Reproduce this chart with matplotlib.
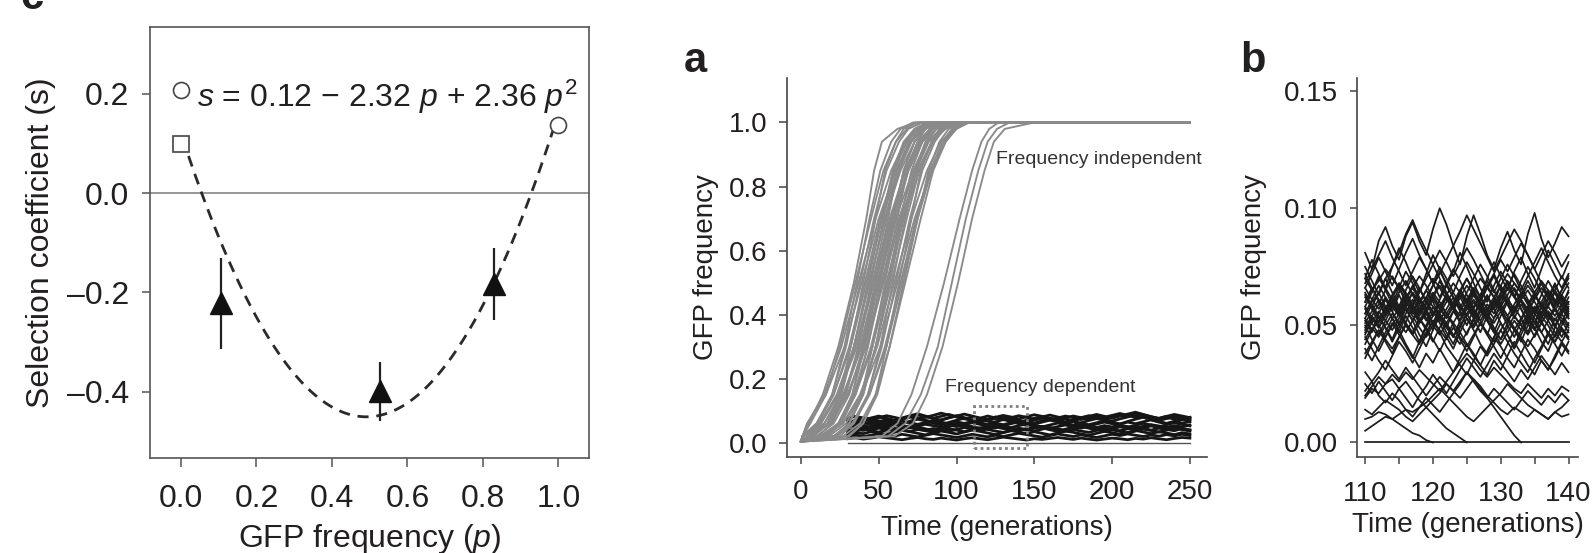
import numpy as np
import matplotlib
matplotlib.use("Agg")
import matplotlib.pyplot as plt
from matplotlib.patches import Rectangle

plt.rcParams["font.family"] = ["Liberation Sans", "DejaVu Sans"]
plt.rcParams["mathtext.fontset"] = "custom"
plt.rcParams["mathtext.rm"] = "Liberation Sans"
plt.rcParams["mathtext.it"] = "Liberation Sans:italic"
plt.rcParams["mathtext.bf"] = "Liberation Sans:bold"

# --- panel c: selection coefficient against GFP frequency ---
p_open_circle = [0.0, 1.0]
s_open_circle = [0.207, 0.136]
p_open_square = [0.0]
s_open_square = [0.099]
p_tri = [0.106, 0.528, 0.83]
s_tri = [-0.222, -0.399, -0.183]
s_tri_err = [0.092, 0.06, 0.072]
fit_coef = [0.12, -2.32, 2.36]      # s = a + b*p + c*p^2 (from the figure)
fit_p_range = [0.02, 0.985]
c_xticks = [0.0, 0.2, 0.4, 0.6, 0.8, 1.0]
c_yticks = [-0.4, -0.2, 0.0, 0.2]
c_yticklabels = ["\u20130.4", "\u20130.2", "0.0", "0.2"]

# --- panel a: frequency independent runs (grey) ---
# generation at which each run crossed these GFP frequencies
indep_levels = [0.02, 0.06, 0.15, 0.3, 0.5, 0.7, 0.85, 0.94, 0.98, 1.0]
indep_start = 0.003
indep_end_gen = 250
indep_runs = [
    [1, 6, 16, 25, 35, 45, 53, 61, 68, 77],
    [2, 11, 20, 28, 36, 44, 51, 58, 64, 72],
    [1, 4, 15, 26, 37, 48, 58, 67, 75, 85],
    [1, 10, 20, 29, 38, 47, 55, 63, 69, 78],
    [1, 4, 16, 28, 39, 50, 61, 70, 79, 89],
    [8, 17, 25, 32, 40, 48, 54, 61, 66, 74],
    [1, 11, 21, 31, 41, 51, 60, 68, 76, 85],
    [1, 10, 21, 32, 42, 52, 62, 71, 78, 88],
    [7, 17, 26, 34, 43, 52, 59, 66, 73, 81],
    [4, 15, 25, 34, 44, 54, 62, 70, 77, 86],
    [11, 20, 29, 37, 45, 53, 60, 67, 73, 81],
    [1, 13, 24, 35, 46, 57, 67, 76, 84, 94],
    [8, 18, 28, 37, 46, 55, 63, 71, 77, 86],
    [1, 12, 24, 36, 47, 58, 69, 78, 87, 97],
    [16, 25, 33, 40, 48, 56, 62, 69, 74, 82],
    [6, 18, 28, 38, 48, 58, 67, 75, 83, 92],
    [5, 17, 28, 39, 49, 59, 69, 78, 85, 95],
    [14, 24, 33, 41, 50, 59, 66, 73, 80, 88],
    [10, 21, 31, 40, 50, 60, 68, 76, 83, 92],
    [17, 26, 35, 43, 51, 59, 66, 73, 79, 87],
    [6, 19, 30, 41, 52, 63, 73, 82, 90, 100],
    [14, 24, 34, 43, 52, 61, 69, 77, 83, 92],
    [5, 18, 30, 42, 53, 64, 75, 84, 93, 103],
    [22, 31, 39, 46, 54, 62, 68, 75, 80, 88],
    [13, 25, 35, 45, 55, 65, 74, 82, 90, 99],
    [12, 24, 35, 46, 56, 66, 76, 85, 92, 102],
    [21, 31, 40, 48, 57, 66, 73, 80, 87, 95],
    [18, 29, 39, 48, 58, 68, 76, 84, 91, 100],
    [25, 34, 43, 51, 59, 67, 74, 81, 87, 95],
    [14, 27, 38, 49, 60, 71, 81, 90, 98, 106],
    [23, 33, 43, 52, 61, 70, 78, 86, 92, 101],
    [14, 27, 39, 51, 62, 73, 84, 93, 100, 108],
    [31, 40, 48, 55, 63, 71, 77, 84, 89, 97],
    [22, 34, 44, 54, 64, 74, 83, 91, 97, 105],
    [21, 33, 44, 55, 65, 75, 84, 92, 98, 106],
    [30, 40, 49, 57, 66, 75, 82, 89, 95, 103],
    [27, 38, 48, 57, 67, 77, 85, 93, 99, 108],
    [1, 12, 23, 34, 44, 54, 64, 73, 80, 90],
    [2, 15, 27, 39, 50, 61, 72, 81, 90, 100],
    [22, 31, 40, 48, 56, 64, 71, 78, 84, 92],
    [1, 5, 14, 24, 34, 42, 47, 52, 62, 74],
    [52, 62, 71, 81, 92, 102, 110, 116, 121, 127],
    [56, 67, 77, 88, 97, 106, 114, 120, 126, 134],
    [60, 72, 81, 91, 101, 110, 118, 124, 131, 150],
]

# --- panel a: frequency dependent runs (black), GFP frequency x 1000, every 5 gens ---
dep_gen_start, dep_gen_end, dep_gen_step = 30, 250, 5
dep_runs = [
    [48, 55, 62, 57, 66, 71, 64, 58, 67, 73, 68, 61, 55, 63, 70,
     76, 69, 62, 57, 65, 72, 66, 59, 54, 61, 68, 74, 67, 60, 55,
     62, 69, 75, 70, 63, 58, 66, 73, 79, 71, 64, 59, 66, 72, 68],
    [35, 42, 38, 45, 51, 46, 40, 47, 53, 49, 43, 38, 44, 50, 57,
     52, 46, 41, 48, 54, 49, 43, 37, 44, 50, 46, 40, 35, 42, 48,
     53, 47, 41, 36, 43, 49, 45, 39, 46, 52, 47, 41, 37, 44, 40],
    [62, 70, 77, 72, 80, 74, 68, 75, 82, 77, 70, 64, 71, 78, 84,
     78, 71, 66, 73, 80, 75, 69, 63, 70, 76, 82, 76, 70, 65, 72,
     78, 84, 79, 73, 67, 74, 80, 86, 80, 74, 69, 75, 81, 77, 71],
    [25, 31, 28, 34, 30, 26, 32, 38, 34, 29, 24, 30, 36, 32, 27,
     33, 39, 35, 30, 25, 31, 37, 33, 28, 34, 29, 24, 30, 36, 32,
     27, 23, 29, 35, 31, 26, 32, 38, 33, 28, 34, 30, 25, 31, 27],
    [55, 49, 44, 51, 57, 63, 58, 52, 47, 54, 60, 66, 61, 55, 50,
     56, 62, 57, 51, 46, 53, 59, 65, 60, 54, 49, 55, 61, 56, 50,
     45, 52, 58, 64, 59, 53, 48, 54, 60, 55, 49, 56, 62, 57, 52],
    [70, 64, 71, 77, 83, 76, 70, 77, 84, 90, 83, 76, 82, 88, 81,
     75, 69, 76, 83, 77, 71, 78, 84, 79, 73, 80, 86, 80, 74, 68,
     75, 82, 88, 82, 76, 83, 89, 95, 88, 81, 75, 82, 78, 72, 79],
    [42, 37, 43, 39, 45, 41, 36, 42, 48, 43, 38, 44, 40, 35, 41,
     47, 42, 37, 43, 49, 44, 39, 45, 41, 36, 42, 47, 43, 38, 44,
     50, 45, 40, 46, 41, 37, 43, 48, 44, 39, 45, 41, 46, 42, 38],
    [58, 64, 59, 65, 60, 55, 61, 67, 62, 57, 63, 69, 64, 59, 65,
     60, 66, 72, 67, 61, 56, 62, 68, 63, 58, 64, 70, 65, 60, 66,
     61, 56, 62, 68, 64, 58, 64, 59, 65, 71, 66, 60, 66, 61, 65],
    [30, 36, 42, 37, 33, 39, 45, 40, 35, 41, 37, 32, 38, 44, 39,
     34, 40, 46, 41, 36, 32, 38, 43, 39, 45, 51, 46, 40, 35, 41,
     36, 32, 38, 44, 40, 35, 30, 36, 42, 38, 33, 39, 45, 41, 36],
    [66, 60, 67, 73, 68, 62, 69, 75, 80, 74, 79, 85, 92, 86, 80,
     74, 80, 75, 69, 75, 81, 76, 70, 64, 70, 76, 71, 77, 83, 78,
     72, 78, 84, 79, 85, 91, 85, 79, 84, 78, 72, 78, 74, 80, 76],
    [20, 24, 19, 23, 28, 24, 20, 26, 22, 18, 23, 28, 24, 20, 16,
     21, 26, 22, 18, 23, 19, 24, 29, 25, 21, 17, 22, 27, 23, 19,
     24, 20, 16, 21, 26, 22, 27, 23, 19, 24, 20, 25, 21, 26, 22],
    [52, 58, 53, 48, 54, 50, 56, 51, 46, 52, 57, 53, 48, 54, 59,
     55, 50, 45, 51, 56, 52, 47, 53, 58, 54, 49, 44, 50, 55, 51,
     56, 52, 47, 53, 49, 54, 50, 45, 51, 56, 52, 48, 53, 49, 55],
    [12, 15, 11, 14, 18, 15, 12, 9, 13, 16, 12, 10, 14, 11, 8,
     12, 15, 12, 9, 13, 17, 14, 11, 8, 12, 10, 13, 16, 13, 10,
     14, 11, 8, 11, 14, 12, 9, 13, 11, 15, 12, 9, 13, 16, 14],
    [76, 82, 77, 72, 78, 84, 79, 73, 80, 86, 81, 75, 70, 77, 83,
     89, 83, 77, 72, 79, 85, 80, 74, 81, 87, 82, 76, 71, 77, 83,
     78, 73, 79, 74, 80, 86, 81, 92, 87, 81, 76, 82, 88, 83, 78],
]
dep_extinct = [0] * 45           # runs that lost GFP
zoom_gens = [111, 145]          # dotted box = window shown in panel b
zoom_freqs = [-0.016, 0.115]

# --- panel b: frequency dependent runs, generations 110-140, GFP frequency x 1000 ---
b_gen_start = 110
b_runs = [
    [81, 74, 86, 92, 84, 78, 88, 94, 86, 80, 91, 100, 93, 84, 76, 88, 97, 89, 80, 74,
     83, 90, 82, 76, 89, 98, 87, 79, 85, 92, 88],
    [70, 78, 72, 66, 75, 83, 77, 70, 64, 72, 80, 74, 67, 73, 81, 75, 68, 62, 70, 77,
     71, 65, 73, 79, 72, 66, 74, 82, 76, 70, 77],
    [58, 64, 71, 65, 59, 66, 73, 68, 61, 55, 62, 69, 63, 57, 64, 70, 65, 58, 52, 60,
     67, 62, 56, 63, 69, 64, 57, 62, 68, 61, 55],
    [52, 47, 55, 61, 56, 50, 58, 64, 59, 53, 48, 56, 62, 57, 51, 46, 53, 60, 55, 49,
     44, 51, 58, 53, 47, 54, 60, 55, 49, 56, 62],
    [46, 53, 49, 56, 62, 57, 51, 59, 66, 60, 54, 61, 67, 62, 56, 50, 57, 52, 46, 53,
     59, 54, 48, 43, 50, 57, 52, 46, 53, 48, 44],
    [63, 57, 51, 58, 53, 47, 54, 49, 43, 50, 56, 51, 45, 40, 47, 53, 48, 42, 38, 45,
     51, 46, 41, 48, 54, 49, 43, 39, 46, 52, 47],
    [75, 69, 63, 70, 64, 58, 65, 71, 66, 60, 67, 73, 68, 62, 57, 64, 70, 76, 71, 65,
     59, 66, 72, 67, 61, 56, 63, 69, 64, 58, 65],
    [55, 61, 67, 62, 56, 63, 57, 52, 59, 65, 60, 54, 49, 56, 62, 57, 63, 58, 52, 47,
     54, 60, 66, 61, 55, 62, 68, 63, 57, 51, 58],
    [42, 48, 54, 49, 44, 51, 57, 52, 46, 41, 48, 54, 50, 45, 52, 58, 53, 47, 54, 60,
     56, 50, 45, 52, 58, 53, 47, 42, 49, 55, 50],
    [66, 72, 79, 73, 67, 74, 81, 87, 80, 74, 68, 75, 70, 64, 71, 77, 72, 66, 60, 67,
     73, 68, 62, 69, 75, 70, 64, 58, 65, 71, 66],
    [50, 44, 39, 45, 51, 46, 41, 36, 43, 49, 44, 39, 45, 51, 47, 42, 37, 33, 39, 45,
     41, 36, 32, 38, 44, 40, 35, 31, 37, 43, 39],
    [60, 66, 61, 55, 62, 68, 63, 58, 64, 70, 76, 70, 64, 59, 65, 60, 54, 61, 67, 72,
     66, 60, 55, 61, 57, 51, 58, 64, 59, 65, 71],
    [36, 42, 48, 43, 38, 45, 51, 47, 53, 48, 43, 49, 55, 50, 44, 39, 45, 51, 46, 41,
     36, 42, 48, 44, 39, 34, 40, 46, 42, 37, 43],
    [72, 66, 60, 54, 60, 55, 61, 67, 62, 57, 51, 57, 63, 58, 52, 59, 65, 60, 66, 71,
     65, 59, 53, 59, 54, 48, 55, 61, 67, 62, 56],
    [57, 51, 46, 52, 58, 64, 69, 63, 57, 52, 58, 53, 47, 42, 49, 55, 50, 56, 62, 57,
     51, 46, 40, 46, 52, 58, 53, 59, 65, 60, 54],
    [68, 74, 80, 86, 79, 73, 67, 73, 79, 74, 68, 62, 68, 74, 69, 63, 57, 63, 69, 64,
     70, 76, 71, 65, 71, 77, 83, 77, 71, 66, 72],
    [40, 35, 41, 47, 53, 48, 42, 37, 32, 38, 34, 40, 35, 30, 36, 42, 38, 33, 29, 35,
     31, 37, 43, 38, 33, 29, 35, 31, 36, 42, 38],
    [48, 54, 59, 65, 71, 66, 60, 55, 61, 57, 63, 58, 53, 59, 65, 70, 64, 58, 63, 57,
     62, 68, 63, 57, 51, 45, 51, 56, 50, 45, 51],
    [64, 58, 64, 70, 75, 81, 89, 95, 88, 82, 76, 82, 77, 71, 77, 83, 78, 72, 66, 72,
     78, 73, 79, 85, 80, 74, 80, 86, 81, 75, 80],
    [53, 59, 54, 49, 43, 49, 55, 61, 56, 62, 67, 72, 78, 84, 90, 97, 91, 85, 79, 73,
     79, 85, 91, 86, 80, 74, 68, 62, 56, 62, 57],
    [45, 40, 35, 31, 37, 43, 39, 34, 40, 46, 52, 47, 41, 37, 33, 29, 35, 41, 37, 42,
     48, 43, 38, 34, 30, 36, 41, 47, 43, 49, 45],
    [55, 60, 64, 58, 53, 57, 62, 66, 61, 56, 51, 55, 60, 64, 59, 54, 58, 63, 67, 62,
     57, 52, 56, 61, 65, 60, 55, 59, 64, 58, 53],
    [47, 51, 56, 52, 48, 53, 58, 54, 49, 45, 50, 55, 51, 46, 42, 47, 52, 57, 53, 48,
     44, 49, 54, 50, 46, 51, 56, 52, 47, 43, 48],
    [62, 58, 53, 57, 62, 67, 63, 58, 54, 59, 64, 60, 55, 51, 56, 61, 66, 62, 57, 53,
     58, 63, 68, 64, 59, 55, 60, 65, 61, 56, 60],
    [51, 56, 61, 57, 63, 68, 64, 59, 55, 60, 56, 52, 57, 62, 58, 53, 49, 54, 59, 55,
     61, 66, 62, 57, 52, 48, 53, 58, 54, 59, 64],
    [58, 53, 49, 54, 59, 55, 50, 46, 51, 56, 61, 57, 53, 58, 63, 59, 55, 50, 56, 61,
     57, 52, 48, 53, 58, 63, 59, 54, 50, 55, 60],
    [66, 61, 57, 62, 58, 54, 59, 64, 60, 65, 70, 66, 61, 57, 62, 67, 63, 59, 54, 59,
     64, 69, 65, 60, 56, 61, 66, 62, 58, 63, 68],
    [44, 49, 45, 50, 55, 51, 47, 52, 57, 62, 58, 54, 49, 45, 50, 55, 60, 56, 52, 47,
     42, 47, 52, 48, 53, 58, 54, 50, 45, 50, 55],
    [53, 48, 52, 57, 62, 58, 63, 58, 53, 49, 54, 59, 55, 60, 65, 61, 56, 52, 57, 62,
     58, 54, 59, 64, 60, 55, 51, 56, 52, 57, 53],
    [60, 65, 70, 66, 61, 56, 61, 57, 52, 57, 62, 67, 63, 58, 54, 59, 64, 60, 55, 51,
     56, 61, 57, 62, 67, 63, 58, 53, 58, 63, 59],
    [49, 54, 50, 45, 50, 55, 60, 56, 51, 55, 50, 46, 51, 56, 52, 57, 61, 57, 53, 58,
     63, 59, 54, 50, 55, 51, 47, 52, 57, 53, 49],
    [38, 43, 48, 44, 40, 45, 50, 46, 42, 47, 52, 48, 44, 49, 45, 41, 46, 51, 47, 43,
     48, 53, 49, 45, 41, 46, 51, 47, 43, 48, 44],
    [70, 65, 69, 74, 70, 66, 61, 66, 71, 67, 62, 58, 63, 68, 64, 60, 65, 70, 66, 62,
     67, 72, 68, 64, 59, 64, 69, 65, 60, 65, 70],
    [25, 21, 26, 22, 18, 23, 19, 15, 20, 24, 29, 25, 21, 26, 31, 36, 32, 28, 33, 38,
     34, 30, 26, 31, 27, 32, 37, 33, 29, 34, 30],
    [22, 26, 20, 17, 21, 18, 14, 11, 15, 19, 16, 13, 17, 21, 25, 30, 26, 22, 19, 23,
     20, 17, 14, 18, 22, 19, 16, 20, 17, 21, 18],
    [14, 12, 15, 18, 16, 14, 11, 9, 12, 15, 18, 21, 25, 22, 19, 23, 27, 24, 20, 17,
     14, 12, 15, 13, 11, 14, 12, 10, 13, 11, 12],
    [10, 11, 13, 12, 10, 8, 6, 4, 3, 1, 0],
    [20, 24, 28, 25, 27, 23, 26, 22, 18, 15, 12, 9, 6, 4, 2, 0],
    [30, 26, 30, 35, 31, 27, 32, 28, 24, 20, 24, 28, 25, 22, 26, 30, 27, 23, 19, 15,
     11, 7, 3, 0],
    [5, 7, 9, 11, 10, 12, 14, 13, 15, 17, 20, 23, 20, 17, 14, 11, 9, 12, 15, 18,
     21, 25, 22, 19, 16, 14, 12, 10, 13, 15, 18],
    [19, 23, 21, 25, 29, 26, 30, 27, 31, 28, 25, 22, 26, 30, 34, 38, 35, 31, 28, 32,
     29, 26, 23, 21, 25, 22, 19, 23, 20, 24, 22],
    [0] * 31,
]

TXT = "#231f20"
W, H = 1596, 553
fig = plt.figure(figsize=(W / 100, H / 100), dpi=100)


def axes_px(left, top, right, bottom):
    return fig.add_axes([left / W, 1 - bottom / H, (right - left) / W, (bottom - top) / H])


# ================= panel c =================
axc = axes_px(150, 27, 589, 458)
axc.axhline(0, color="#7a7a7a", lw=1.1, zorder=1)
pp = np.linspace(fit_p_range[0], fit_p_range[1], 200)
axc.plot(pp, fit_coef[0] + fit_coef[1] * pp + fit_coef[2] * pp ** 2,
         color="#2a2a2a", lw=2.0, ls=(0, (4, 2.8)), zorder=2)
axc.errorbar(p_tri, s_tri, yerr=s_tri_err, fmt="^", ms=16, color="#111111",
             ecolor="#222222", elinewidth=1.6, capsize=0, zorder=3)
axc.plot(p_open_circle, s_open_circle, "o", ms=11.5, mfc="white", mec="#444444", mew=1.2, zorder=4)
axc.plot(p_open_square, s_open_square, "s", ms=11, mfc="white", mec="#444444", mew=1.2, zorder=4)
axc.text(0.042, 0.173, "$s$ = 0.12 \u2212 2.32 $p$ + 2.36 $p^{2}$", fontsize=23, color=TXT,
         ha="left", va="baseline")
axc.set_xlim(-0.082, 1.081)
axc.set_ylim(-0.533, 0.334)
axc.set_xticks(c_xticks)
axc.set_xticklabels([f"{v:.1f}" for v in c_xticks])
axc.set_yticks(c_yticks)
axc.set_yticklabels(c_yticklabels)
for sp in axc.spines.values():
    sp.set_color("#555555")
    sp.set_linewidth(1.2)
axc.tick_params(axis="y", length=6, width=1.1, color="#555555", labelsize=23, labelcolor=TXT, pad=9)
axc.tick_params(axis="x", length=6.5, width=1.1, color="#555555", labelsize=23, labelcolor=TXT, pad=12)
axc.set_xlabel("GFP frequency ($p$)", fontsize=23, color=TXT)
axc.set_ylabel("Selection coefficient (s)", fontsize=23, color=TXT)
axc.xaxis.set_label_coords(0.5, -0.148)
axc.yaxis.set_label_coords(-0.214, 0.5)

# ================= panel a =================
axa = axes_px(787, 78, 1207, 457)
dep_gens = np.arange(dep_gen_start, dep_gen_end + 1, dep_gen_step)
axa.plot(dep_gens, dep_extinct, color="#555555", lw=1.0, zorder=2)
for run in dep_runs:
    axa.plot(dep_gens[:len(run)], np.array(run) / 1000, color="#151515", lw=2.0, zorder=2)
for run in indep_runs:
    gx = [0] + run + [indep_end_gen]
    gy = [indep_start] + indep_levels + [1.0]
    axa.plot(gx, gy, color="#8a8a8a", lw=1.35, zorder=3)
axa.add_patch(Rectangle((zoom_gens[0], zoom_freqs[0]), zoom_gens[1] - zoom_gens[0],
                        zoom_freqs[1] - zoom_freqs[0], fill=False, ec="#808080",
                        lw=2.0, ls=(0, (1, 1.2)), zorder=4))
axa.text(125.3, 0.885, "Frequency independent", fontsize=14, color="#333333", ha="left", va="center")
axa.text(92.5, 0.173, "Frequency dependent", fontsize=14, color="#333333", ha="left", va="center")
axa.set_xlim(-9, 261)
axa.set_ylim(-0.045, 1.139)
axa.set_xticks([0, 50, 100, 150, 200, 250])
axa.set_yticks([0.0, 0.2, 0.4, 0.6, 0.8, 1.0])
axa.set_yticklabels([f"{v:.1f}" for v in [0.0, 0.2, 0.4, 0.6, 0.8, 1.0]])
axa.spines["top"].set_visible(False)
axa.spines["right"].set_visible(False)
for s in ("left", "bottom"):
    axa.spines[s].set_color("#444444")
    axa.spines[s].set_linewidth(1.2)
axa.tick_params(axis="y", length=6, width=1.1, color="#444444", labelsize=20, labelcolor=TXT, pad=8)
axa.tick_params(axis="x", length=5, width=1.1, color="#444444", labelsize=20, labelcolor=TXT, pad=11)
axa.set_xlabel("Time (generations)", fontsize=20, color=TXT)
axa.set_ylabel("GFP frequency", fontsize=20, color=TXT)
axa.xaxis.set_label_coords(0.5, -0.153)
axa.yaxis.set_label_coords(-0.162, 0.5)

# ================= panel b =================
axb = axes_px(1357, 78, 1578, 457)
for run in b_runs:
    gens = np.arange(b_gen_start, b_gen_start + len(run))
    axb.plot(gens, np.array(run) / 1000, color="#1c1c1c", lw=1.25)
axb.set_xlim(108.8, 141.4)
axb.set_ylim(-0.0062, 0.1556)
axb.set_xticks([110, 115, 120, 125, 130, 135, 140])
axb.set_xticklabels(["110", "", "120", "", "130", "", "140"])
axb.set_yticks([0.0, 0.05, 0.10, 0.15])
axb.set_yticklabels(["0.00", "0.05", "0.10", "0.15"])
axb.spines["top"].set_visible(False)
axb.spines["right"].set_visible(False)
for s in ("left", "bottom"):
    axb.spines[s].set_color("#444444")
    axb.spines[s].set_linewidth(1.2)
axb.tick_params(axis="y", length=5, width=1.1, color="#444444", labelsize=20, labelcolor=TXT, pad=9)
axb.tick_params(axis="x", length=5, width=1.1, color="#444444", labelsize=20, labelcolor=TXT, pad=12)
axb.set_xlabel("Time (generations)", fontsize=20, color=TXT)
axb.set_ylabel("GFP frequency", fontsize=20, color=TXT)
axb.xaxis.set_label_coords(0.5, -0.145)
axb.yaxis.set_label_coords(-0.405, 0.5)

# panel letters
fig.text(20 / W, 1 - 9 / H, "c", fontsize=30, fontweight="bold", color=TXT, va="baseline")
fig.text(684 / W, 1 - 72 / H, "a", fontsize=30, fontweight="bold", color=TXT, va="baseline")
fig.text(1240 / W, 1 - 72 / H, "b", fontsize=30, fontweight="bold", color=TXT, va="baseline")

fig.savefig("out.png", dpi=100, facecolor="white")
